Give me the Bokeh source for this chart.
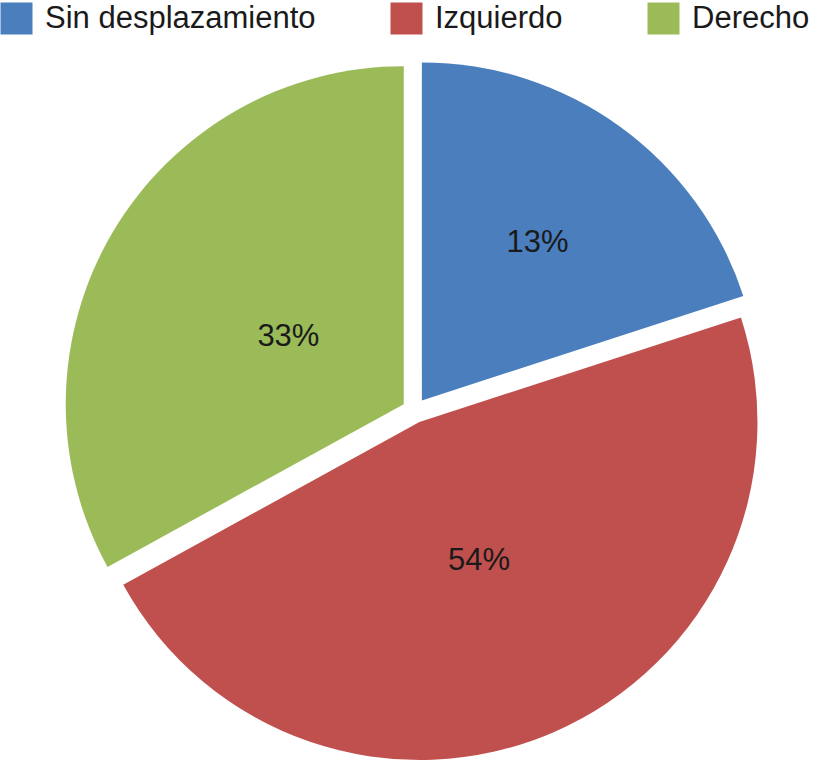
import numpy as np
from bokeh.plotting import figure
from bokeh.models import ColumnDataSource, Legend, LegendItem, Range1d
from bokeh.core.properties import value
from bokeh.embed import file_html
from bokeh.resources import INLINE

# ---- data (slice sizes as drawn, and the printed labels) ----
categories = ["Sin desplazamiento", "Izquierdo", "Derecho"]
slice_values = [20, 47, 33]
pct_labels = ["13%", "54%", "33%"]
colors = ["#4A7EBD", "#C0504D", "#9BBB59"]

# ---- layout ----
W, H = 809, 760
cx, cy = 414, 350
radius = 338
explode = 12.5
label_dist = [197, 150, 134]

vals = np.array(slice_values, dtype=float)
frac = vals / vals.sum()
cum = np.concatenate([[0], np.cumsum(frac)[:-1]])
end = np.pi / 2 - cum * 2 * np.pi
start = end - frac * 2 * np.pi
mid = (start + end) / 2
xs = cx + explode * np.cos(mid)
ys = cy + explode * np.sin(mid)
lx = xs + np.array(label_dist) * np.cos(mid)
ly = ys + np.array(label_dist) * np.sin(mid)

src = ColumnDataSource(dict(x=xs, y=ys, start=start, end=end, color=colors,
                            cat=categories, lab=pct_labels, lx=lx, ly=ly))

p = figure(width=W, height=H, x_range=Range1d(0, W), y_range=Range1d(0, H),
           output_backend="svg", toolbar_location=None, min_border=0,
           x_axis_location=None, y_axis_location=None)
p.grid.visible = False
p.outline_line_color = None
p.background_fill_color = "white"

r = p.wedge(x="x", y="y", radius=radius, start_angle="start", end_angle="end",
            fill_color="color", line_color=None, source=src)

p.text(x="lx", y="ly", text="lab", source=src, text_align="center",
       text_baseline="middle", text_font=value("Liberation Sans"),
       text_font_size="31px", text_color="#1a1a1a")

legend_x = [-4, 386, 643]
for i, cat in enumerate(categories):
    lg = Legend(items=[LegendItem(label=cat, renderers=[r], index=i)],
                location=(legend_x[i], H - 38), orientation="horizontal",
                glyph_width=40, glyph_height=40, label_standoff=9,
                label_text_font="Liberation Sans", label_text_font_size="31px",
                label_text_color="#1a1a1a", padding=0, margin=0, spacing=0,
                border_line_color=None, background_fill_alpha=0)
    p.add_layout(lg, "center")

open("out.html", "w").write(file_html(p, INLINE))
